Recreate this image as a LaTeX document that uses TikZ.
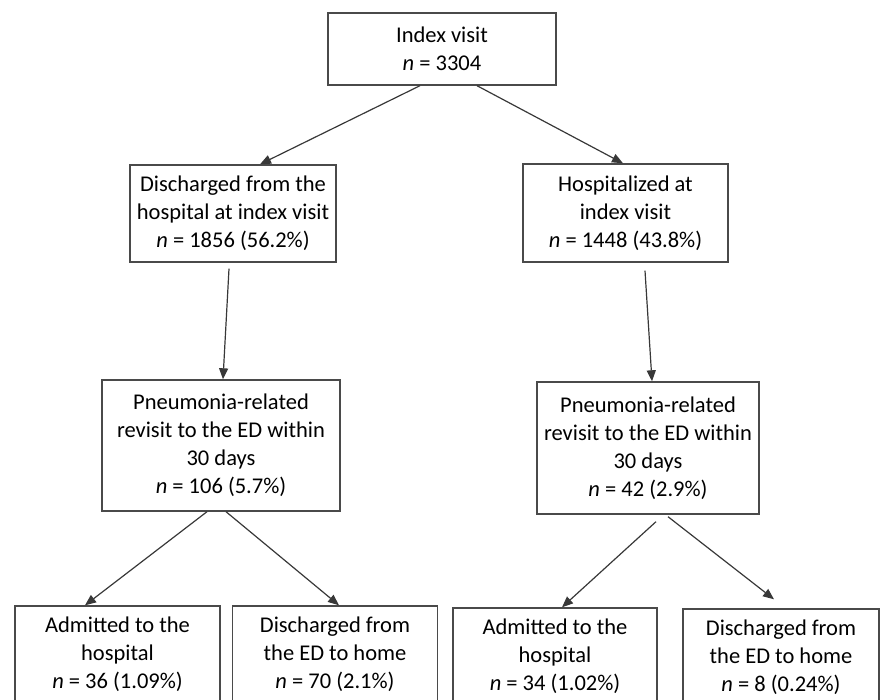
\documentclass[tikz,border=0pt]{standalone}
\usepackage{fontspec}
\setmainfont{Carlito}
\usetikzlibrary{arrows.meta}

\definecolor{boxgray}{HTML}{4A4A4A}
\definecolor{arrowgray}{HTML}{383838}

\tikzstyle{box} = [rectangle, draw=boxgray, line width=1.4pt, align=center, inner sep=0pt,
	font=\fontsize{22.5}{28}\selectfont]
\tikzstyle{arr} = [-{Triangle[length=11pt,width=9pt]}, draw=arrowgray, line width=1.2pt]

\begin{document}
\begin{tikzpicture}[x=1pt,y=-1pt]
\useasboundingbox (0,0) rectangle (881,700);
\clip (0,0) rectangle (881,700);
% top level
\node [box, minimum width=228pt, minimum height=72pt] (index) at (442,49)
	{Index visit\\ \textit{n} = 3304};
% outcome of the index visit
\node [box, minimum width=206pt, minimum height=97pt] (dis) at (233,213.5)
	{Discharged from the\\ hospital at index visit\\ \textit{n} = 1856 (56.2\%)};
\node [box, minimum width=205pt, minimum height=98pt] (hos) at (625.5,213)
	{Hospitalized at\\ index visit\\ \textit{n} = 1448 (43.8\%)};
% revisits
\node [box, minimum width=238pt, minimum height=131pt] (revl) at (221,445.5)
	{Pneumonia-related\\ revisit to the ED within\\ 30 days\\ \textit{n} = 106 (5.7\%)};
\node [box, minimum width=222pt, minimum height=132pt] (revr) at (648,448)
	{Pneumonia-related\\ revisit to the ED within\\ 30 days\\ \textit{n} = 42 (2.9\%)};
% outcome of the revisit
\node [box, minimum width=205pt, minimum height=97pt] (adml) at (117.5,654.5)
	{Admitted to the\\ hospital\\ \textit{n} = 36 (1.09\%)};
\node [box, minimum width=205pt, minimum height=97pt] (homel) at (335,654.5)
	{Discharged from\\ the ED to home\\ \textit{n} = 70 (2.1\%)};
\node [box, minimum width=204pt, minimum height=97pt] (admr) at (555,656.5)
	{Admitted to the\\ hospital\\ \textit{n} = 34 (1.02\%)};
\node [box, minimum width=196pt, minimum height=97pt] (homer) at (781,657.5)
	{Discharged from\\ the ED to home\\ \textit{n} = 8 (0.24\%)};

\draw [arr] ([xshift=-22pt]index.south) -- ([xshift=27pt]dis.north);
\draw [arr] ([xshift=35pt]index.south) -- ([xshift=-2.5pt]hos.north);
\draw [arr] ([xshift=-4pt,yshift=-6pt]dis.south) -- ([xshift=2pt]revl.north);
\draw [arr] ([xshift=19.5pt,yshift=-8pt]hos.south) -- ([xshift=4pt]revr.north);
\draw [arr] ([xshift=-14pt]revl.south) -- ([xshift=-32.5pt]adml.north);
\draw [arr] ([xshift=5pt]revl.south) -- ([xshift=4pt]homel.north);
\draw [arr] ([xshift=8pt,yshift=-7pt]revr.south) -- ([xshift=7pt]admr.north);
\draw [arr] ([xshift=20pt,yshift=-2pt]revr.south) -- ([xshift=-7pt,yshift=9pt]homer.north);
\end{tikzpicture}
\end{document}
